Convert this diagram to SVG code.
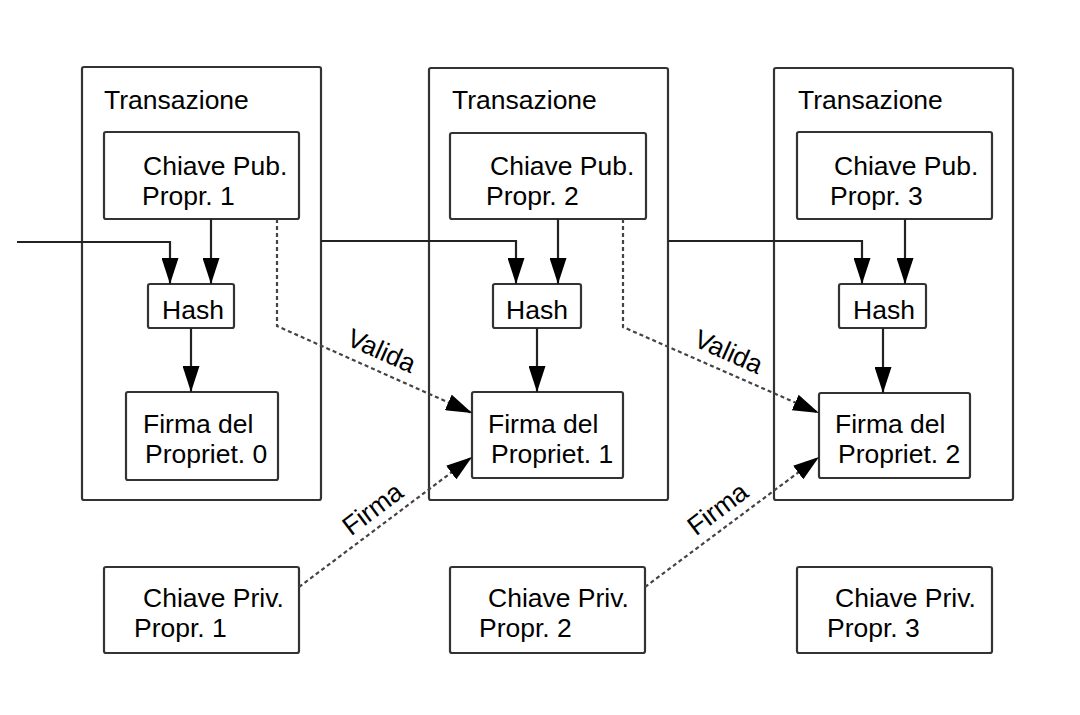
<svg xmlns="http://www.w3.org/2000/svg" width="1080" height="715" viewBox="0 0 1080 715">
<defs>
<marker id="ah" markerUnits="userSpaceOnUse" markerWidth="26" markerHeight="17" refX="26" refY="8.5" orient="auto">
<path d="M0,0 L26,8.5 L0,17 z" fill="#000"/>
</marker>
<style>
.box{fill:#fff;stroke:#333;stroke-width:2.2}
.t{font-family:"Liberation Sans",Arial,sans-serif;font-size:26.5px;fill:#000}
.ln{fill:none;stroke:#222;stroke-width:2.2}
.dl{fill:none;stroke:#444;stroke-width:2.2;stroke-dasharray:4 3}
</style>
</defs>
<rect width="1080" height="715" fill="#fff"/>
<g id="tx1">
<rect class="box" x="82" y="67" width="239" height="433" rx="2"/>
<text class="t" x="104" y="109">Transazione</text>
</g>
<g id="tx2">
<rect class="box" x="429" y="68" width="239" height="432" rx="2"/>
<text class="t" x="452" y="109">Transazione</text>
</g>
<g id="tx3">
<rect class="box" x="774" y="68" width="239" height="432" rx="2"/>
<text class="t" x="798" y="109">Transazione</text>
</g>
<g id="pub1">
<rect class="box" x="104" y="132" width="195" height="87" rx="2"/>
<text class="t" x="143" y="175">Chiave Pub.</text>
<text class="t" x="142" y="205">Propr. 1</text>
</g>
<g id="pub2">
<rect class="box" x="450" y="133" width="196" height="86" rx="2"/>
<text class="t" x="490" y="175">Chiave Pub.</text>
<text class="t" x="486" y="205">Propr. 2</text>
</g>
<g id="pub3">
<rect class="box" x="797" y="132" width="195" height="87" rx="2"/>
<text class="t" x="834" y="175">Chiave Pub.</text>
<text class="t" x="830" y="205">Propr. 3</text>
</g>
<g id="hash1">
<rect class="box" x="148" y="284" width="86" height="44" rx="2"/>
<text class="t" x="162" y="319">Hash</text>
</g>
<g id="hash2">
<rect class="box" x="493" y="284" width="88" height="44" rx="2"/>
<text class="t" x="506" y="319">Hash</text>
</g>
<g id="hash3">
<rect class="box" x="839" y="284" width="87" height="44" rx="2"/>
<text class="t" x="853" y="319">Hash</text>
</g>
<g id="sig0">
<rect class="box" x="126" y="392" width="152" height="88" rx="2"/>
<text class="t" x="143" y="433">Firma del</text>
<text class="t" x="145" y="463">Propriet. 0</text>
</g>
<g id="sig1">
<rect class="box" x="472" y="392" width="151" height="86" rx="2"/>
<text class="t" x="488" y="433">Firma del</text>
<text class="t" x="491" y="463">Propriet. 1</text>
</g>
<g id="sig2">
<rect class="box" x="819" y="393" width="151" height="85" rx="2"/>
<text class="t" x="835" y="433">Firma del</text>
<text class="t" x="838" y="463">Propriet. 2</text>
</g>
<g id="priv1">
<rect class="box" x="104" y="567" width="195" height="86" rx="2"/>
<text class="t" x="143" y="607">Chiave Priv.</text>
<text class="t" x="134" y="637">Propr. 1</text>
</g>
<g id="priv2">
<rect class="box" x="450" y="567" width="195" height="86" rx="2"/>
<text class="t" x="488" y="607">Chiave Priv.</text>
<text class="t" x="479" y="637">Propr. 2</text>
</g>
<g id="priv3">
<rect class="box" x="797" y="567" width="195" height="86" rx="2"/>
<text class="t" x="835" y="607">Chiave Priv.</text>
<text class="t" x="827" y="637">Propr. 3</text>
</g>
<g id="connectors">
<path class="ln" d="M17,242 H170 V284" marker-end="url(#ah)"/>
<path class="ln" d="M211,219 V284" marker-end="url(#ah)"/>
<path class="ln" d="M191,328 V392" marker-end="url(#ah)"/>
<path class="ln" d="M321,241 H516 V284" marker-end="url(#ah)"/>
<path class="ln" d="M558,219 V284" marker-end="url(#ah)"/>
<path class="ln" d="M537,328 V392" marker-end="url(#ah)"/>
<path class="ln" d="M668,241 H862 V284" marker-end="url(#ah)"/>
<path class="ln" d="M905,219 V284" marker-end="url(#ah)"/>
<path class="ln" d="M883,328 V393" marker-end="url(#ah)"/>
<path class="dl" d="M277,219 V326 L472,413" marker-end="url(#ah)"/>
<path class="dl" d="M623,219 V327 L819,413" marker-end="url(#ah)"/>
<path class="dl" d="M299,587 L472,457" marker-end="url(#ah)"/>
<path class="dl" d="M645,587 L819,457" marker-end="url(#ah)"/>
<text class="t" font-size="24.5" text-anchor="middle" transform="translate(378,359) rotate(24)">Valida</text>
<text class="t" font-size="24.5" text-anchor="middle" transform="translate(725,360) rotate(24)">Valida</text>
<text class="t" font-size="24.5" text-anchor="middle" transform="translate(378,516) rotate(-37)">Firma</text>
<text class="t" font-size="24.5" text-anchor="middle" transform="translate(723,516) rotate(-37)">Firma</text>
</g>
</svg>
